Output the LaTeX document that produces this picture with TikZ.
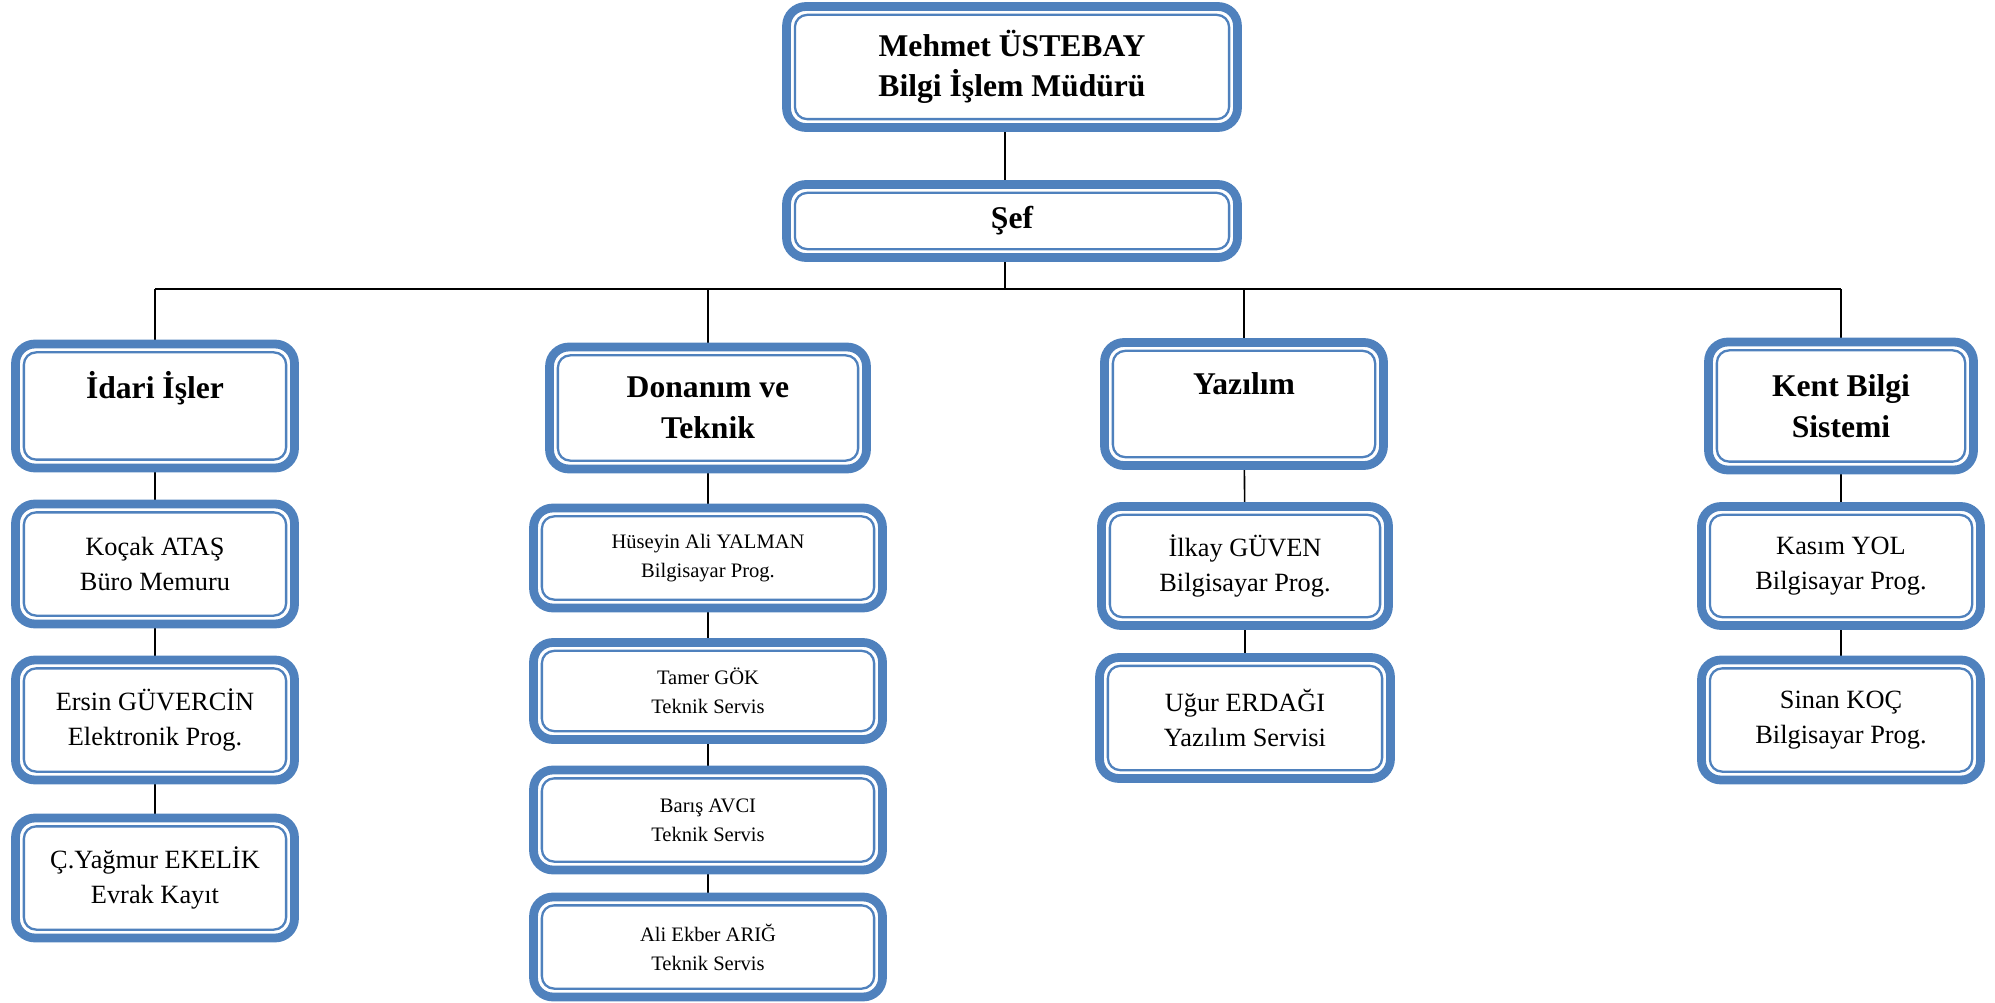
\documentclass[tikz,border=0pt]{standalone}
\usepackage{fontspec}
\setmainfont{Liberation Serif}
\usepackage{xcolor}
\usepackage{tikz}
\usetikzlibrary{positioning, backgrounds}

\definecolor{boxblue}{RGB}{79,129,189}

\tikzset{
  unit/.style={draw=boxblue, line width=5pt, rounded corners=11pt, fill=white,
    align=center, inner sep=0pt, outer sep=0pt},
  chief/.style={unit, minimum width=9.02cm, font=\fontsize{18}{22.8}\selectfont\bfseries},
  dept/.style={unit, minimum height=2.48cm, font=\fontsize{18}{23.5}\selectfont\bfseries},
  staff/.style={unit, minimum height=2.4cm, font=\fontsize{15}{20}\selectfont},
  tech/.style={unit, minimum width=6.98cm, minimum height=2cm, font=\fontsize{11.7}{16.5}\selectfont},
  innerline/.style={draw=boxblue, line width=1.3pt, rounded corners=7pt},
  link/.style={line width=0.9pt}
}

\begin{document}
\begin{tikzpicture}[x=0.02cm, y=-0.02cm]
  \useasboundingbox (0,0) rectangle (1995,1003);

  % top
  \node[chief, minimum height=2.42cm] (mudur) at (1012,67) {Mehmet ÜSTEBAY\\Bilgi İşlem Müdürü};
  \node[chief, minimum height=1.46cm] (sef) at (1012,221) {Şef};

  % departments
  \node[dept, minimum width=5.58cm] (idari) at (155,406) {İdari İşler\\\mbox{}};
  \node[dept, minimum width=6.34cm, minimum height=2.44cm] (donanim) at (708,408) {Donanım ve\\Teknik};
  \node[dept, minimum width=5.58cm, minimum height=2.46cm] (yazilim) at (1244,404) {Yazılım\\\mbox{}};
  \node[dept, minimum width=5.3cm, minimum height=2.56cm] (kent) at (1841,406) {Kent Bilgi\\Sistemi};

  % idari isler
  \node[staff, minimum width=5.58cm] (kocak) at (155,564) {Koçak ATAŞ\\Büro Memuru};
  \node[staff, minimum width=5.58cm] (ersin) at (155,720) {Ersin GÜVERCİN\\Elektronik Prog.};
  \node[staff, minimum width=5.58cm] (yagmur) at (155,878) {Ç.Yağmur EKELİK\\Evrak Kayıt};

  % donanim ve teknik
  \node[tech] (huseyin) at (708,558) {Hüseyin Ali YALMAN\\Bilgisayar Prog.};
  \node[tech, minimum height=1.94cm] (tamer) at (708,691) {Tamer GÖK\\Teknik Servis};
  \node[tech] (baris) at (708,820) {Barış AVCI\\Teknik Servis};
  \node[tech] (ekber) at (708,947) {Ali Ekber ARIĞ\\Teknik Servis};

  % yazilim
  \node[staff, minimum width=5.74cm, minimum height=2.38cm] (ilkay) at (1245,566) {İlkay GÜVEN\\Bilgisayar Prog.};
  \node[staff, minimum width=5.82cm, minimum height=2.42cm] (ugur) at (1245,718) {Uğur ERDAĞI\\Yazılım Servisi};

  % kent bilgi sistemi
  \node[staff, minimum width=5.58cm, minimum height=2.38cm] (kasim) at (1841,566) {Kasım YOL\\Bilgisayar Prog.};
  \node[staff, minimum width=5.58cm, minimum height=2.4cm] (sinan) at (1841,720) {Sinan KOÇ\\Bilgisayar Prog.};

  % inner border of every box
  \foreach \n in {mudur,sef,idari,donanim,yazilim,kent,kocak,ersin,yagmur,huseyin,tamer,baris,ekber,ilkay,ugur,kasim,sinan}
    \draw[innerline] ([shift={(4.75pt,4.75pt)}]\n.south west) rectangle ([shift={(-4.75pt,-4.75pt)}]\n.north east);

  % connectors
  \begin{scope}[on background layer]
    \coordinate (busL) at (155,289);
    \coordinate (busR) at (1841,289);
    \draw[link] ([xshift=-0.14cm]mudur.south) -- ([xshift=-0.14cm]sef.north);
    \draw[link] ([xshift=-0.14cm]sef.south) -- ([xshift=-0.14cm]sef.south |- busL);
    \draw[link] (busL) -- (busR);
    \foreach \h in {idari,donanim,yazilim,kent}
      \draw[link] (\h.north) -- (\h.north |- busL);
    \draw[link] (idari) -- (kocak);
    \draw[link] (kocak) -- (ersin);
    \draw[link] (ersin) -- (yagmur);
    \draw[link] (donanim) -- (huseyin);
    \draw[link] (huseyin) -- (tamer);
    \draw[link] (tamer) -- (baris);
    \draw[link] (baris) -- (ekber);
    \draw[link] (yazilim) -- (ilkay);
    \draw[link] (ilkay) -- (ugur);
    \draw[link] (kent) -- (kasim);
    \draw[link] (kasim) -- (sinan);
  \end{scope}
\end{tikzpicture}
\end{document}
